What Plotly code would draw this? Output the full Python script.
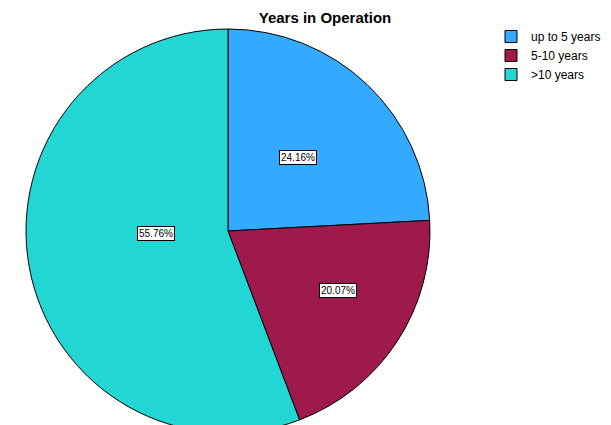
import math
import plotly.graph_objects as go

# Data
labels = ["up to 5 years", "5-10 years", ">10 years"]
values = [24.16, 20.07, 55.76]
colors = ["#33aaff", "#9e1a4c", "#22d6d4"]

W, H = 611, 425
OFF = 8  # page body margin around the plot div

# pie domain (paper fractions)
dom_x = [18 / W, 422 / W]
dom_y = [0.0, 1 - 21 / H]

fig = go.Figure()
fig.add_trace(go.Pie(
    labels=labels,
    values=values,
    sort=False,
    direction="clockwise",
    rotation=0,
    marker=dict(colors=colors, line=dict(color="#000000", width=1)),
    textinfo="none",
    hoverinfo="label+percent",
    domain=dict(x=dom_x, y=dom_y),
))

# boxed percent labels, placed around the middle angle of each slice
cx_px = (dom_x[0] + dom_x[1]) / 2 * W
cy_px = (dom_y[0] + dom_y[1]) / 2 * H
rad_px = min((dom_x[1] - dom_x[0]) * W, (dom_y[1] - dom_y[0]) * H) / 2
label_r = [0.5, 0.62, 0.45]
label_dang = [0, -4.5, 8.5]  # degrees, nudges to sit like the original
total = sum(values)
acc = 0.0
for v, fr, da in zip(values, label_r, label_dang):
    mid = (acc + v / 2) / total * 2 * math.pi + math.radians(da)
    acc += v
    px = cx_px + fr * rad_px * math.sin(mid)
    py = cy_px + fr * rad_px * math.cos(mid)
    fig.add_annotation(
        x=px / W, y=py / H, xref="paper", yref="paper",
        text=f"{v:.2f}%", showarrow=False,
        font=dict(family="Liberation Sans, Arial, sans-serif", size=10, color="#000000"),
        bgcolor="#ffffff", bordercolor="#000000", borderwidth=1, borderpad=1,
    )

fig.update_layout(
    width=W,
    height=H,
    margin=dict(l=0, r=0, t=0, b=0),
    paper_bgcolor="#ffffff",
    font=dict(family="Liberation Sans, Arial, sans-serif", color="#000000"),
    title=dict(
        text="<b>Years in Operation</b>",
        x=(325 - OFF) / W, xanchor="center",
        y=1 - (18 - OFF) / H, yanchor="middle", yref="container",
        font=dict(size=15, color="#000000"),
    ),
    legend=dict(
        x=(533 - OFF - 42) / W, y=1 - (22 - OFF) / H, xanchor="left", yanchor="top",
        font=dict(size=12),
        bgcolor="rgba(0,0,0,0)",
        itemwidth=30,
    ),
    showlegend=True,
)

fig.write_html("out.html")
